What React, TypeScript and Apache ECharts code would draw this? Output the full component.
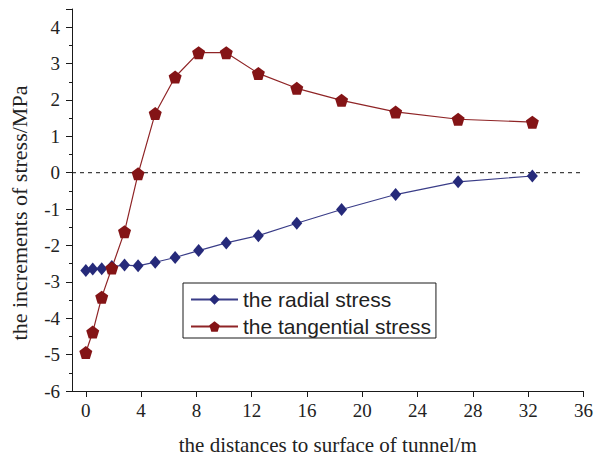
import React, { useEffect, useRef } from "react";
import * as echarts from "echarts";

const distances = [0, 0.5, 1.15, 1.88, 2.8, 3.78, 5.02, 6.46, 8.16, 10.16, 12.48, 15.26, 18.5, 22.41, 26.93, 32.3];
const radialStress = [-2.69, -2.65, -2.64, -2.58, -2.54, -2.56, -2.46, -2.33, -2.14, -1.93, -1.73, -1.39, -1.01, -0.6, -0.25, -0.09];
const tangentialStress = [-4.94, -4.38, -3.42, -2.62, -1.62, -0.03, 1.63, 2.63, 3.3, 3.3, 2.73, 2.32, 1.99, 1.67, 1.47, 1.39];
const zeroLineX = [-1, 36];
const zeroLineY = [0, 0];
const xMajorTicks = [0, 4, 8, 12, 16, 20, 24, 28, 32, 36];

const PENTAGON = "path://M0,-1 L0.951,-0.309 L0.588,0.809 L-0.588,0.809 L-0.951,-0.309 Z";

export default function App() {
  const ref = useRef<HTMLDivElement>(null);
  useEffect(() => {
    if (!ref.current) return;
    const chart = echarts.init(ref.current, null, { renderer: "svg" });
    const serif = "Liberation Serif";
    const ink = "#1a1a1a";
    chart.setOption({
      animation: false,
      grid: { left: 72, right: 10, top: 9, bottom: 71, containLabel: false },
      legend: {
        orient: "vertical",
        left: 183,
        top: 283,
        padding: [6, 5, 1, 7],
        itemGap: 6,
        itemWidth: 47,
        itemHeight: 13,
        borderColor: ink,
        borderWidth: 1,
        backgroundColor: "#fff",
        textStyle: { fontFamily: "Liberation Sans", fontSize: 21, color: "#222" },
        data: ["the radial stress", "the tangential stress"],
      },
      xAxis: {
        type: "value",
        min: -1,
        max: 36,
        name: "the distances to surface of tunnel/m",
        nameLocation: "middle",
        nameGap: 43,
        nameTextStyle: { color: "#222", fontFamily: serif, fontSize: 21 },
        axisLine: { show: true, onZero: false, lineStyle: { color: ink } },
        axisTick: { show: true, length: 6, customValues: xMajorTicks },
        axisLabel: { color: "#222", fontFamily: serif, fontSize: 19, margin: 10, customValues: xMajorTicks },
        splitLine: { show: false },
      },
      yAxis: {
        type: "value",
        min: -6,
        max: 4.5,
        interval: 1,
        name: "the increments of stress/MPa",
        nameLocation: "middle",
        nameGap: 42,
        nameTextStyle: { color: "#222", fontFamily: serif, fontSize: 22, padding: [0, 26, 0, 0] },
        axisLine: { show: true, onZero: false, lineStyle: { color: ink } },
        axisTick: { show: true, length: 6 },
        minorTick: { show: true, splitNumber: 2, length: 3 },
        axisLabel: { color: "#222", fontFamily: serif, fontSize: 19, margin: 12 },
        splitLine: { show: false },
      },
      series: [
        {
          name: "zero",
          type: "line",
          data: zeroLineX.map((x, i) => [x, zeroLineY[i]]),
          symbol: "none",
          silent: true,
          lineStyle: { color: "#111", type: [4, 4], width: 1 },
        },
        {
          name: "the radial stress",
          type: "line",
          data: distances.map((d, i) => [d, radialStress[i]]),
          symbol: "diamond",
          symbolSize: [11, 13],
          itemStyle: { color: "#262a7a" },
          lineStyle: { color: "#3a3d88", width: 1.2 },
        },
        {
          name: "the tangential stress",
          type: "line",
          data: distances.map((d, i) => [d, tangentialStress[i]]),
          symbol: PENTAGON,
          symbolSize: [13, 13],
          itemStyle: { color: "#841416" },
          lineStyle: { color: "#8f2426", width: 1.2 },
        },
      ],
    });
    return () => chart.dispose();
  }, []);
  return <div ref={ref} style={{ width: 596, height: 462, position: "absolute", left: 0, top: 0 }} />;
}
